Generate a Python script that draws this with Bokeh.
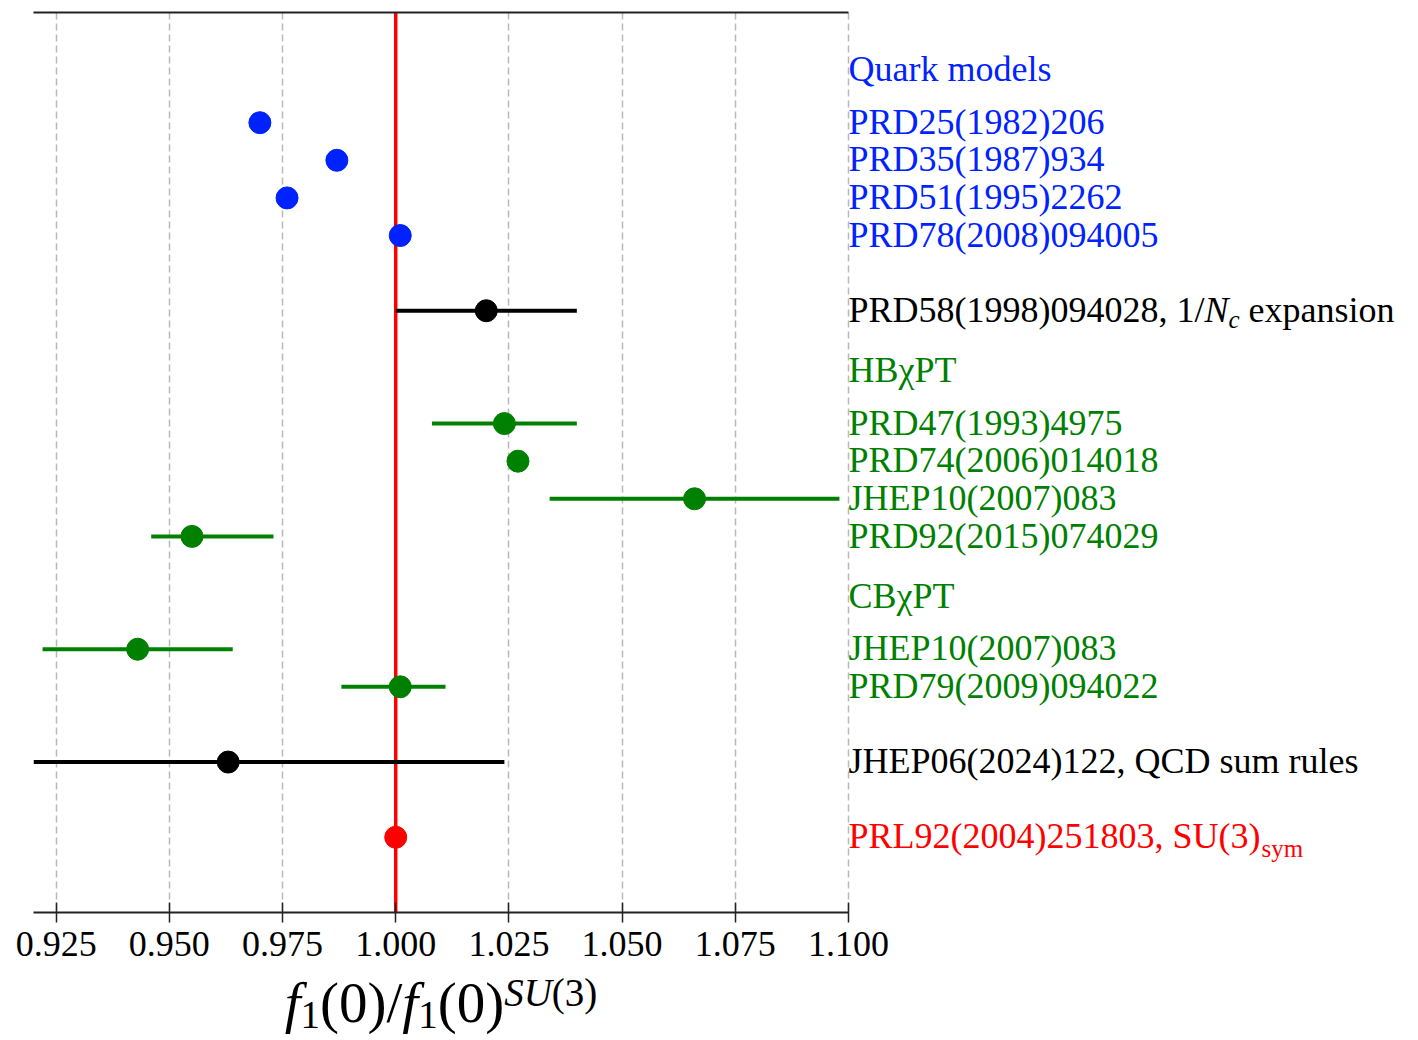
from bokeh.plotting import figure
from bokeh.layouts import column
from bokeh.models import Range1d, FixedTicker, LinearAxis, Label, PrintfTickFormatter
from bokeh.embed import file_html
from bokeh.resources import INLINE

# ---------------- data ----------------
QUARK_REFS = ["PRD25(1982)206", "PRD35(1987)934", "PRD51(1995)2262", "PRD78(2008)094005"]
QUARK_VALS = [0.970, 0.987, 0.976, 1.001]
QUARK_ROWS = [0, 1, 2, 3]

NC_REF_PREFIX = "PRD58(1998)094028, 1/"
NC_VAL = 1.020
NC_ERR = 0.020
NC_ROW = 5

HB_REFS = ["PRD47(1993)4975", "PRD74(2006)014018", "JHEP10(2007)083", "PRD92(2015)074029"]
HB_VALS = [1.024, 1.027, 1.066, 0.955]
HB_ERR_LO = [0.016, 0.0, 0.032, 0.009]
HB_ERR_HI = [0.016, 0.0, 0.032, 0.018]
HB_ROWS = [8, 9, 10, 11]

CB_REFS = ["JHEP10(2007)083", "PRD79(2009)094022"]
CB_VALS = [0.943, 1.001]
CB_ERR_LO = [0.021, 0.013]
CB_ERR_HI = [0.021, 0.010]
CB_ROWS = [14, 15]

QCD_REF = "JHEP06(2024)122, QCD sum rules"
QCD_VAL = 0.963
QCD_ERR = 0.061
QCD_ROW = 17

SYM_REF_PREFIX = "PRL92(2004)251803, SU(3)"
SYM_VAL = 1.000
SYM_ROW = 19

HEADERS = ["Quark models", "HBχPT", "CBχPT"]
HEADER_ROWS = [-1.4, 6.6, 12.6]

TICKS = [0.925, 0.950, 0.975, 1.000, 1.025, 1.050, 1.075, 1.100]

BLUE = "#0022ff"
GREEN = "green"
RED = "red"
BLACK = "black"
HEADER_COLORS = [BLUE, GREEN, GREEN]

FONT = "Liberation Serif"

# ---------------- geometry ----------------
CANVAS_W, CANVAS_H = 1418, 1040
X_MIN, X_MAX = 0.92, 1.10
Y_TOP, Y_BOTTOM = -2.93, 21.0
LEFT = 33
DATA_W = 815                      # pixels covered by X_MIN..X_MAX
FRAME_TOP = 12
FRAME_H = 900
AXIS_H = 59
MAIN_H = FRAME_TOP + FRAME_H + AXIS_H
TITLE_H = CANVAS_H - MAIN_H
PX_PER_ROW = FRAME_H / (Y_BOTTOM - Y_TOP)
# the frame runs on to the right edge so the reference labels sit inside it
X_VIEW_MAX = X_MIN + (CANVAS_W - LEFT) * (X_MAX - X_MIN) / DATA_W
ASCENT_FIX = 0.33                 # Label box offset relative to the alphabetic baseline (em)

# Times-compatible advance widths (per 1000 em) used to chain text pieces
W_UP = {**{d: 500 for d in "0123456789"}, "(": 333, ")": 333, ",": 250, " ": 250,
        "/": 278, ".": 250, "P": 556, "R": 667, "D": 722, "L": 611, "S": 556,
        "U": 722, "J": 389, "H": 722, "E": 611, "Q": 722, "C": 667}
W_IT = {"N": 667, "c": 444, "f": 278, "S": 500, "U": 722}


def width(s, size, italic=False):
    table = W_IT if italic else W_UP
    return sum(table.get(ch, 500) for ch in s) * size / 1000.0


def row_px(r):
    return FRAME_TOP + (r - Y_TOP) * PX_PER_ROW


def row_at(px):
    return Y_TOP + (px - FRAME_TOP) / PX_PER_ROW


# ---------------- main panel ----------------
p = figure(width=CANVAS_W, height=MAIN_H, output_backend="svg", toolbar_location=None,
           x_range=Range1d(X_MIN, X_VIEW_MAX), y_range=Range1d(Y_BOTTOM, Y_TOP),
           y_axis_location=None,
           min_border_left=LEFT, min_border_right=0, min_border_top=FRAME_TOP,
           min_border_bottom=AXIS_H, outline_line_color=None,
           background_fill_color="white", border_fill_color="white")

ax = p.xaxis[0]
ax.bounds = (X_MIN, X_MAX)
ax.ticker = FixedTicker(ticks=TICKS)
ax.formatter = PrintfTickFormatter(format="%.3f")
ax.axis_line_width = 2
ax.axis_line_color = "#222222"
ax.major_tick_in = 10
ax.major_tick_out = 10
ax.major_tick_line_width = 1.5
ax.major_tick_line_color = "#222222"
ax.minor_tick_line_color = None
ax.major_label_text_font = FONT
ax.major_label_text_font_size = "36px"
ax.major_label_text_color = "black"
ax.major_label_standoff = 9

top = LinearAxis(ticker=FixedTicker(ticks=[]), bounds=(X_MIN, X_MAX),
                 axis_line_width=2, axis_line_color="#222222",
                 major_tick_in=0, major_tick_out=0, major_tick_line_color=None,
                 minor_tick_line_color=None, major_label_standoff=0,
                 major_label_text_font_size="0px")
p.add_layout(top, "above")

p.xgrid.ticker = FixedTicker(ticks=TICKS)
p.xgrid.grid_line_color = "#b8b8b8"
p.xgrid.grid_line_dash = "7 4"
p.xgrid.grid_line_width = 1.5
p.ygrid.visible = False

# SU(3)-symmetric reference line
p.segment(x0=[SYM_VAL], y0=[Y_BOTTOM], x1=[SYM_VAL], y1=[Y_TOP], line_color=RED, line_width=3.5)


def bars(vals, lo, hi, rows, color):
    xs0 = [max(v - a, X_MIN) for v, a in zip(vals, lo)]
    xs1 = [v + b for v, b in zip(vals, hi)]
    p.segment(x0=xs0, y0=rows, x1=xs1, y1=rows, line_color=color, line_width=4)


bars([NC_VAL], [NC_ERR], [NC_ERR], [NC_ROW], BLACK)
bars(HB_VALS, HB_ERR_LO, HB_ERR_HI, HB_ROWS, GREEN)
bars(CB_VALS, CB_ERR_LO, CB_ERR_HI, CB_ROWS, GREEN)
bars([QCD_VAL], [QCD_ERR], [QCD_ERR], [QCD_ROW], BLACK)

DOT = 22
p.scatter(QUARK_VALS, QUARK_ROWS, size=DOT, color=BLUE)
p.scatter([NC_VAL], [NC_ROW], size=DOT, color=BLACK)
p.scatter(HB_VALS, HB_ROWS, size=DOT, color=GREEN)
p.scatter(CB_VALS, CB_ROWS, size=DOT, color=GREEN)
p.scatter([QCD_VAL], [QCD_ROW], size=DOT, color=BLACK)
p.scatter([SYM_VAL], [SYM_ROW], size=DOT, color=RED)

# ---------------- reference labels to the right of the data ----------------
SIZE = 36
SUB = 25
BASELINE_DROP = 11   # baseline sits a little below the row centre (px)


def label(text, r, color, dx=0.0, size=SIZE, italic=False, drop=0.0):
    base_px = row_px(r) + BASELINE_DROP + drop
    p.add_layout(Label(x=X_MAX, y=row_at(base_px - ASCENT_FIX * size), x_offset=dx,
                       text=text, text_font=FONT, text_font_size=f"{size}px",
                       text_font_style="italic" if italic else "normal",
                       text_color=color, text_align="left", text_baseline="alphabetic"))


for txt, r, c in zip(HEADERS, HEADER_ROWS, HEADER_COLORS):
    label(txt, r, c)
for txt, r in zip(QUARK_REFS, QUARK_ROWS):
    label(txt, r, BLUE)
for txt, r in zip(HB_REFS, HB_ROWS):
    label(txt, r, GREEN)
for txt, r in zip(CB_REFS, CB_ROWS):
    label(txt, r, GREEN)
label(QCD_REF, QCD_ROW, BLACK)

# 1/N_c expansion
x0 = width(NC_REF_PREFIX, SIZE)
label(NC_REF_PREFIX, NC_ROW, BLACK)
label("N", NC_ROW, BLACK, dx=x0, italic=True)
x1 = x0 + width("N", SIZE, True)
label("c", NC_ROW, BLACK, dx=x1, size=SUB, italic=True, drop=6)
x2 = x1 + width("c", SUB, True) + 9
label("expansion", NC_ROW, BLACK, dx=x2)

# SU(3)_sym
label(SYM_REF_PREFIX, SYM_ROW, RED)
label("sym", SYM_ROW, RED, dx=width(SYM_REF_PREFIX, SIZE) + 1, size=SUB, drop=8)

# ---------------- x-axis title: f1(0)/f1(0)^{SU(3)} ----------------
# the column lines this frame up with the main frame, so it shares its x scale
title = figure(width=CANVAS_W, height=TITLE_H, output_backend="svg", toolbar_location=None,
               x_range=Range1d(X_MIN, X_VIEW_MAX), y_range=Range1d(TITLE_H, 0),
               x_axis_location=None, y_axis_location=None,
               min_border=0, min_border_left=LEFT, min_border_right=0,
               outline_line_color=None,
               background_fill_color="white", border_fill_color="white")
title.grid.visible = False

F, S = 57, 39
base = 1021 - MAIN_H
pieces = [("f", F, True, 0), ("1", S, False, 6), ("(0)/", F, False, 0),
          ("f", F, True, 0), ("1", S, False, 6), ("(0)", F, False, 0),
          ("SU", S, True, -16), ("(3)", S, False, -16)]
total = sum(width(t, sz, it) for t, sz, it, _ in pieces)
cx = 0.5 * DATA_W - 0.5 * total          # offset from the left edge of the frame
for t, sz, it, shift in pieces:
    title.add_layout(Label(x=X_MIN, x_offset=cx, y=base + shift - ASCENT_FIX * sz, text=t,
                           text_font=FONT, text_font_size=f"{sz}px",
                           text_font_style="italic" if it else "normal",
                           text_color="black", text_align="left", text_baseline="alphabetic"))
    cx += width(t, sz, it)

layout = column(p, title)
open("out.html", "w").write(file_html(layout, INLINE))
